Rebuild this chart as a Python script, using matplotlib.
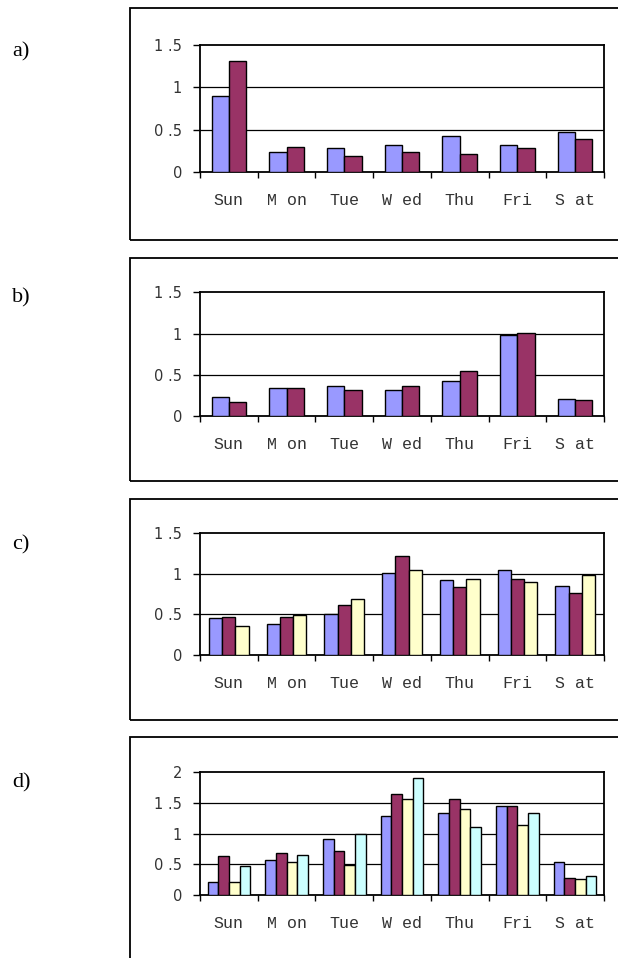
import numpy as np
import matplotlib
matplotlib.use('Agg')
import matplotlib.pyplot as plt
from matplotlib.patches import Rectangle

days = ['Sun', 'M on', 'Tue', 'W ed', 'Thu', 'Fri', 'S at']

# panel a
a_s1 = [0.90, 0.235, 0.28, 0.32, 0.43, 0.32, 0.47]
a_s2 = [1.31, 0.30, 0.19, 0.235, 0.215, 0.28, 0.39]
# panel b
b_s1 = [0.235, 0.34, 0.365, 0.32, 0.425, 0.98, 0.21]
b_s2 = [0.17, 0.34, 0.32, 0.365, 0.54, 1.005, 0.195]
# panel c
c_s1 = [0.45, 0.385, 0.51, 1.005, 0.92, 1.05, 0.855]
c_s2 = [0.465, 0.465, 0.62, 1.225, 0.835, 0.94, 0.77]
c_s3 = [0.36, 0.49, 0.69, 1.05, 0.94, 0.90, 0.98]
# panel d
d_s1 = [0.22, 0.565, 0.91, 1.29, 1.34, 1.45, 0.54]
d_s2 = [0.63, 0.68, 0.71, 1.65, 1.57, 1.45, 0.28]
d_s3 = [0.22, 0.54, 0.49, 1.57, 1.40, 1.14, 0.255]
d_s4 = [0.48, 0.66, 1.00, 1.91, 1.11, 1.34, 0.315]

colors = ['#9999FF', '#993366', '#FFFFCC', '#CCFFFF']

W, H = 618, 958
fig = plt.figure(figsize=(W / 100, H / 100), dpi=100)

# (label, series, ymax, axes top px, axes bottom px, box top px, box bottom px, label y px)
panels = [
    ('a)', [a_s1, a_s2], 1.5, 44.7, 172.3, 8, 240, 52),
    ('b)', [b_s1, b_s2], 1.5, 292.3, 416, 258, 481, 298),
    ('c)', [c_s1, c_s2, c_s3], 1.5, 533.3, 655, 499, 720, 545),
    ('d)', [d_s1, d_s2, d_s3, d_s4], 2.0, 772.3, 895, 737, 1000, 783),
]


def ylab(v):
    if v == int(v):
        return '%d' % v
    return '%d .%d' % (int(v), round((v - int(v)) * 10))


x = np.arange(len(days))
for label, series, ymax, top, bot, btop, bbot, ly in panels:
    # outer frame
    fig.patches.append(Rectangle((130 / W, 1 - bbot / H), 600 / W, (bbot - btop) / H,
                                 transform=fig.transFigure, fill=False,
                                 edgecolor='black', linewidth=1.3))
    fig.text(12 / W, 1 - ly / H, label, family='Liberation Serif', fontsize=16,
             va='center', ha='left')

    ax = fig.add_axes([200 / W, 1 - bot / H, 404 / W, (bot - top) / H])
    n = len(series)
    w = {2: 0.30, 3: 0.23, 4: 0.185}[n]
    for i, s in enumerate(series):
        ax.bar(x + (i - (n - 1) / 2) * w, s, width=w, color=colors[i],
               edgecolor='black', linewidth=1.0, zorder=3)

    ax.set_xlim(-0.5, 6.5)
    ax.set_ylim(0, ymax)
    yt = np.arange(0, ymax + 0.01, 0.5)
    ax.set_yticks(yt)
    ax.set_yticklabels([ylab(v) for v in yt], family='DejaVu Sans', fontsize=10.5,
                       color='#333333')
    for v in yt[1:-1]:
        ax.axhline(v, color='black', linewidth=0.9, zorder=1)

    ax.set_xticks(np.arange(-0.5, 7, 1.0))
    ax.set_xticklabels([])
    ax.set_xticks(x, minor=True)
    ax.set_xticklabels(days, minor=True, family='Liberation Mono', fontsize=12,
                       color='#333333')
    ax.tick_params(axis='x', which='major', direction='out', length=4, width=1)
    ax.tick_params(axis='x', which='minor', length=0, pad=15)
    ax.tick_params(axis='y', direction='out', length=5, width=1, pad=8)
    for sp in ax.spines.values():
        sp.set_linewidth(1.3)
        sp.set_color('black')

fig.savefig('out.png', dpi=100)
